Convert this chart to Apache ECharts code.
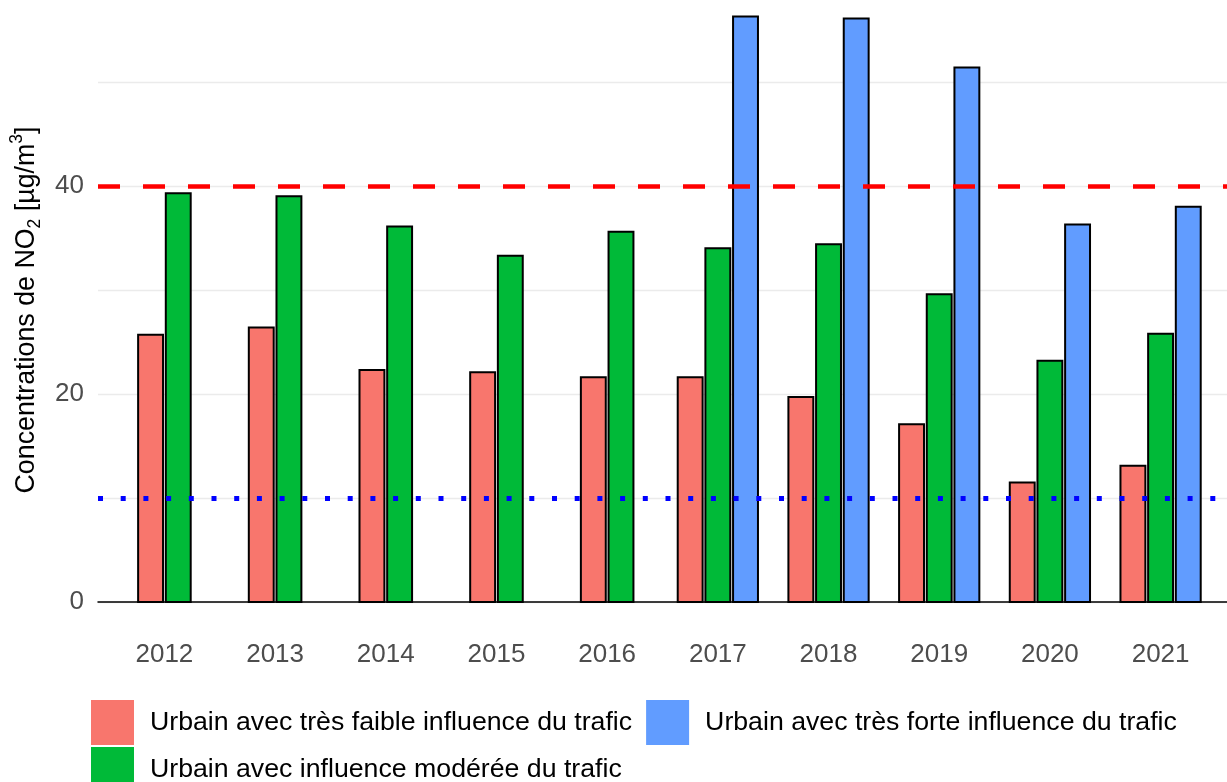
<!DOCTYPE html>
<html>
<head>
<meta charset="utf-8">
<script src="https://cdn.jsdelivr.net/npm/echarts@6/dist/echarts.min.js"></script>
<style>
  html, body { margin: 0; padding: 0; background: #fff; }
  #main { width: 1227px; height: 782px; }
</style>
</head>
<body>
<div id="main"></div>
<script>
// années (catégories)
var years = ['2012', '2013', '2014', '2015', '2016', '2017', '2018', '2019', '2020', '2021'];
// concentrations NO2 par type de station
var faible = [25.7, 26.4, 22.3, 22.1, 21.6, 21.6, 19.7, 17.1, 11.5, 13.1];
var moderee = [39.3, 39.0, 36.1, 33.3, 35.6, 34.0, 34.4, 29.6, 23.2, 25.8];
var forte = [null, null, null, null, null, 56.3, 56.1, 51.4, 36.3, 38.0];
// seuils
var valeurLimite = 40;
var valeurOMS = 10;
var yLabels = [0, 20, 40];
var yGrid = [0, 10, 20, 30, 40, 50];

var names = [
  'Urbain avec très faible influence du trafic',
  'Urbain avec influence modérée du trafic',
  'Urbain avec très forte influence du trafic'
];
var colors = ['#F8766D', '#00BA38', '#619CFF'];
var allSeries = [faible, moderee, forte];

var myChart = echarts.init(document.getElementById('main'));

// position_dodge2 : les barres présentes sont centrées sur l'année
function makeRender(s) {
  return function (params, api) {
    var i = api.value(0) - 1;
    var v = api.value(1);
    var present = [];
    for (var k = 0; k < allSeries.length; k++) {
      if (allSeries[k][i] != null) present.push(k);
    }
    var rank = present.indexOf(s);
    var off = (rank - (present.length - 1) / 2) * 0.25;
    var p1 = api.coord([i + 1 + off - 0.1125, v]);
    var p2 = api.coord([i + 1 + off + 0.1125, 0]);
    return {
      type: 'rect',
      shape: { x: p1[0], y: p1[1], width: p2[0] - p1[0], height: p2[1] - p1[1] },
      style: { fill: colors[s], stroke: '#000', lineWidth: 2 }
    };
  };
}

function buildData(arr) {
  var out = [];
  arr.forEach(function (v, i) {
    if (v != null) out.push([i + 1, v]);
  });
  return out;
}

var series = allSeries.map(function (arr, s) {
  return {
    name: names[s],
    type: 'custom',
    renderItem: makeRender(s),
    itemStyle: { color: colors[s] },
    encode: { x: 0, y: 1 },
    data: buildData(arr)
  };
});

series.push({
  type: 'line',
  data: [],
  markLine: {
    silent: true,
    symbol: 'none',
    label: { show: false },
    data: [
      { yAxis: valeurLimite, lineStyle: { color: '#FF0000', width: 4.5, type: [22, 23] } },
      { yAxis: valeurOMS, lineStyle: { color: '#0000FF', width: 5, type: [5, 17.7] } }
    ]
  }
});

var option = {
  animation: false,
  textStyle: { fontFamily: 'Liberation Sans, Arial, sans-serif' },
  grid: { left: 98, right: 0, top: 0, bottom: 180, containLabel: false },
  legend: [
    {
      left: 91, top: 700, padding: 0,
      itemWidth: 43, itemHeight: 45, itemGap: 14,
      icon: 'rect',
      itemStyle: { borderWidth: 0 },
      textStyle: { fontSize: 26.7, color: '#000', padding: [0, 0, 0, 11] },
      data: [names[0], names[2]]
    },
    {
      left: 91, top: 747, padding: 0,
      itemWidth: 43, itemHeight: 45,
      icon: 'rect',
      itemStyle: { borderWidth: 0 },
      textStyle: { fontSize: 26.7, color: '#000', padding: [0, 0, 0, 11] },
      data: [names[1]]
    }
  ],
  xAxis: {
    type: 'value',
    min: 0.4,
    max: 10.6,
    axisLine: { show: true, lineStyle: { color: '#000', width: 1.5 } },
    axisTick: { show: false },
    splitLine: { show: false },
    axisLabel: {
      customValues: [1, 2, 3, 4, 5, 6, 7, 8, 9, 10],
      formatter: function (v) { return years[Math.round(v) - 1]; },
      fontSize: 26,
      color: '#4D4D4D',
      margin: 40
    }
  },
  yAxis: {
    type: 'value',
    min: 0,
    max: 57.88,
    name: '{a|Concentrations de NO}{b|2}{a| [µg/m}{c|3}{a|]}',
    nameLocation: 'middle',
    nameGap: 53,
    nameTextStyle: {
      padding: [0, 18, 0, 0],
      rich: {
        a: { fontSize: 26.8, color: '#000', lineHeight: 36, verticalAlign: 'middle' },
        b: { fontSize: 17.5, color: '#000', lineHeight: 36, verticalAlign: 'bottom' },
        c: { fontSize: 17.5, color: '#000', lineHeight: 36, verticalAlign: 'top' }
      }
    },
    axisLine: { show: false },
    axisTick: { show: false, customValues: yGrid },
    splitLine: { show: true, lineStyle: { color: '#EBEBEB', width: 1.3 } },
    axisLabel: {
      customValues: yLabels,
      fontSize: 26,
      color: '#4D4D4D',
      margin: 14
    }
  },
  series: series
};

myChart.setOption(option);
</script>
</body>
</html>
